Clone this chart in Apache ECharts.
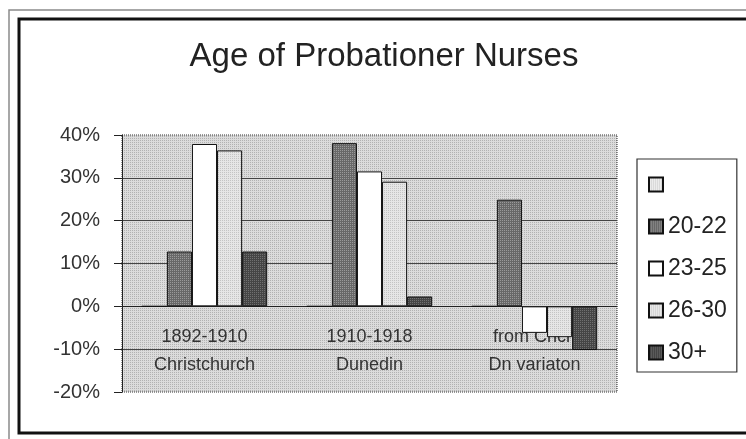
<!DOCTYPE html>
<html>
<head>
<meta charset="utf-8">
<title>Age of Probationer Nurses</title>
<script src="https://cdn.jsdelivr.net/npm/echarts@6/dist/echarts.min.js"></script>
<style>
  html, body { margin: 0; padding: 0; background: #fff; }
  #main { width: 746px; height: 439px; }
</style>
</head>
<body>
<div id="main"></div>
<script>
// 数据
var periods = ['1892-1910', '1910-1918', 'from Chch'];
var places = ['Christchurch', 'Dunedin', 'Dn variaton'];
var ageGroups = [' ', '20-22', '23-25', '26-30', '30+'];
var blankValues = [0, 0, 0];
var age2022 = [12.8, 38.1, 24.9];
var age2325 = [37.9, 31.5, -6.2];
var age2630 = [36.4, 29.1, -7.2];
var age30plus = [12.8, 2.3, -10.2];
var yTicks = [-20, -10, 0, 10, 20, 30, 40];

// 点状纹理：2x2 小格，一个点
function stipple(dot, bg) {
  var c = document.createElement('canvas');
  c.width = 2;
  c.height = 2;
  var ctx = c.getContext('2d');
  ctx.fillStyle = bg;
  ctx.fillRect(0, 0, 2, 2);
  ctx.fillStyle = dot;
  ctx.fillRect(0, 0, 1, 1);
  return { image: c, repeat: 'repeat' };
}

function chart() {
  var myChart = echarts.init(document.getElementById('main'));
  var font = 'Liberation Sans, Arial, sans-serif';
  var categories = periods.map(function (p, i) { return p + '\n' + places[i]; });
  var fills = [
    stipple('#c8c8c8', '#ececec'),
    stipple('#9a9a9a', '#686868'),
    '#ffffff',
    stipple('#c4c4c4', '#e6e6e6'),
    stipple('#707070', '#454545')
  ];
  var values = [blankValues, age2022, age2325, age2630, age30plus];

  var option = {
    backgroundColor: '#ffffff',
    animation: false,
    textStyle: { fontFamily: font },
    title: {
      text: 'Age of Probationer Nurses',
      left: 384,
      top: 40,
      padding: 0,
      textAlign: 'center',
      textStyle: { fontFamily: font, fontSize: 33, fontWeight: 'normal', color: '#222' }
    },
    legend: {
      orient: 'vertical',
      left: 637,
      top: 159,
      padding: [14, 10, 8, 11],
      borderColor: '#333',
      borderWidth: 1.2,
      itemWidth: 14,
      itemHeight: 14,
      itemGap: 19,
      icon: 'rect',
      data: ageGroups,
      textStyle: { fontFamily: font, fontSize: 23, lineHeight: 22, color: '#222' }
    },
    graphic: [
      {
        type: 'rect',
        shape: { x: 9, y: 10, width: 800, height: 500 },
        style: { fill: 'none', stroke: '#8a8a8a', lineWidth: 1.5 },
        silent: true
      },
      {
        type: 'rect',
        shape: { x: 19, y: 19, width: 800, height: 414 },
        style: { fill: 'none', stroke: '#111', lineWidth: 3 },
        silent: true
      }
    ],
    grid: {
      left: 122,
      right: 129,
      top: 135,
      bottom: 47,
      outerBoundsMode: 'none',
      containLabel: false,
      show: true,
      backgroundColor: stipple('#b2b2b2', '#dcdcdc'),
      borderColor: '#333',
      borderWidth: 1,
      borderType: 'dotted'
    },
    xAxis: {
      type: 'category',
      data: categories,
      axisLine: { onZero: true, lineStyle: { color: '#222', width: 1 } },
      axisTick: { inside: true, length: 5, lineStyle: { color: '#333' } },
      axisLabel: {
        margin: -69,
        fontFamily: font,
        fontSize: 18,
        lineHeight: 28,
        color: '#333'
      },
      splitLine: { show: false }
    },
    yAxis: {
      type: 'value',
      min: yTicks[0],
      max: yTicks[yTicks.length - 1],
      interval: 10,
      axisLine: { show: true, lineStyle: { color: '#222', width: 1 } },
      axisTick: { show: true, length: 8, lineStyle: { color: '#222' } },
      axisLabel: {
        margin: 22,
        formatter: '{value}%',
        fontFamily: font,
        fontSize: 20,
        color: '#333'
      },
      splitLine: {
        show: true,
        showMinLine: false,
        showMaxLine: false,
        lineStyle: { color: '#444', width: 1 }
      }
    },
    series: ageGroups.map(function (name, i) {
      return {
        name: name,
        type: 'bar',
        data: values[i],
        barGap: '0%',
        barCategoryGap: '24%',
        itemStyle: { color: fills[i], borderColor: '#111', borderWidth: 1 }
      };
    })
  };
  myChart.setOption(option);
}

window.onload = function () {
  chart();
};
</script>
</body>
</html>
